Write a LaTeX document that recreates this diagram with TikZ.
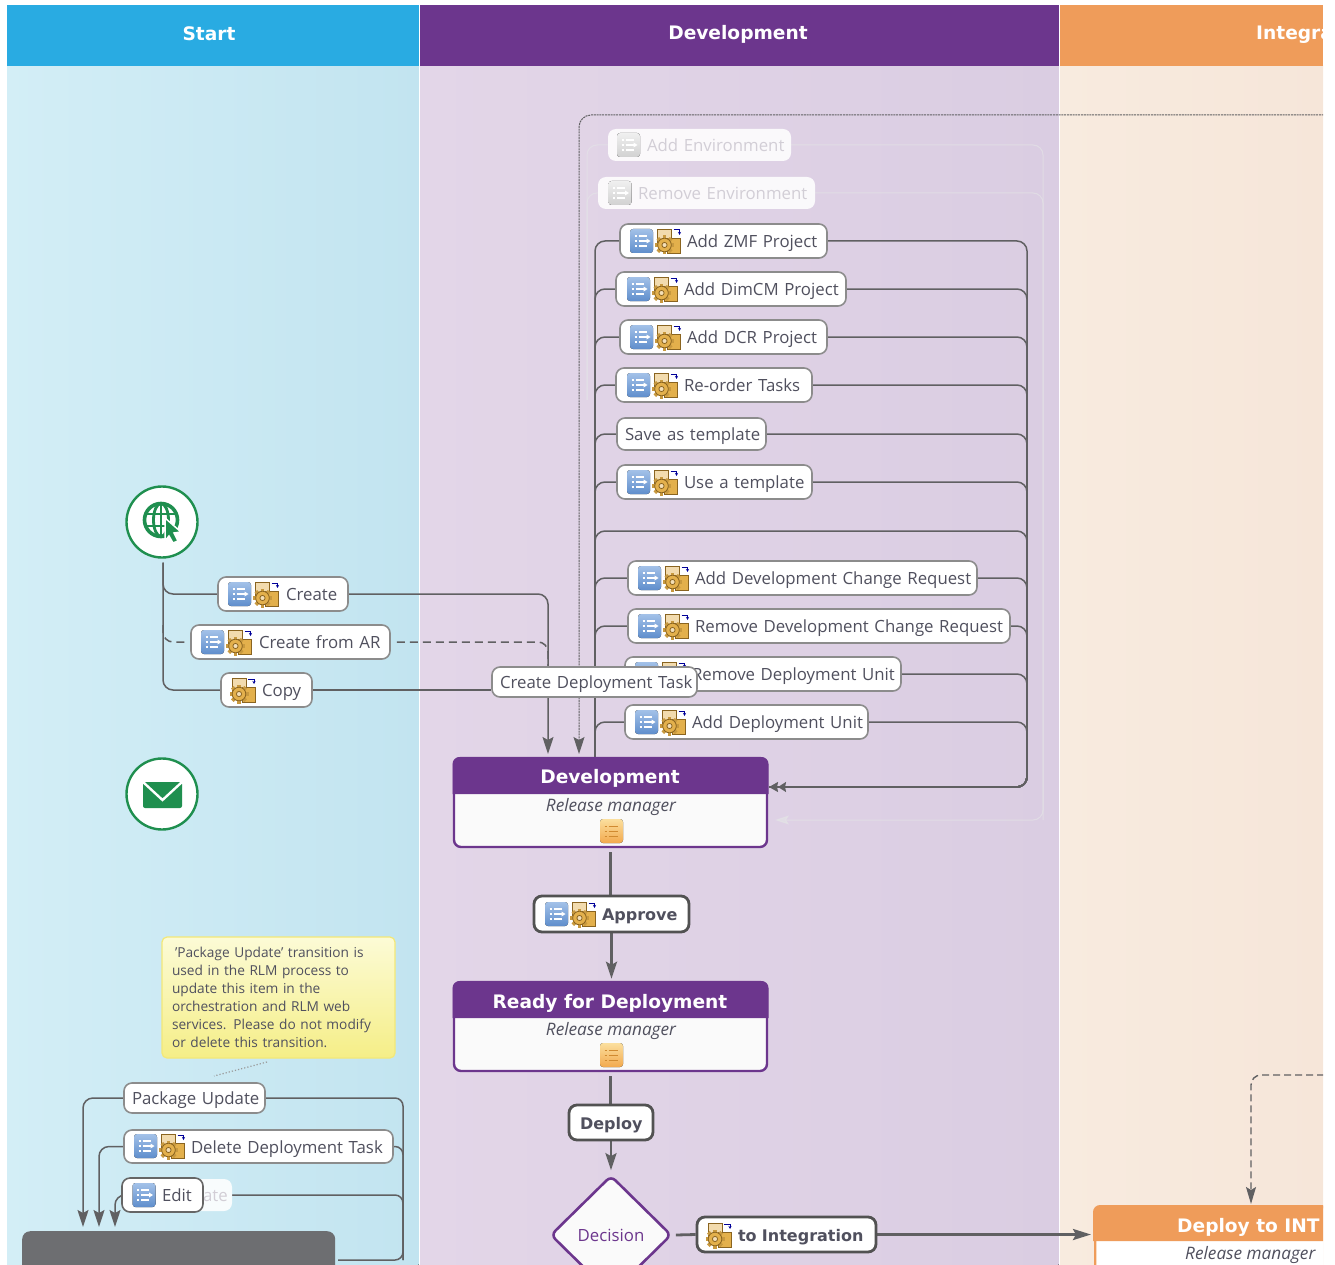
\documentclass[tikz,border=0pt]{standalone}
\usepackage{fontspec}
\setmainfont{Open Sans}
\newfontfamily\boldf{DejaVu Sans}[BoldFont={DejaVu Sans Bold}]
\usetikzlibrary{arrows.meta,shapes.geometric,calc}
\pgfdeclarelayer{lanes}\pgfdeclarelayer{links}\pgfsetlayers{lanes,links,main}
\definecolor{hblue}{HTML}{29ABE2}
\definecolor{hpurple}{HTML}{6C368D}
\definecolor{horange}{HTML}{EF9C5A}
\definecolor{txt}{HTML}{50505E}
\definecolor{conn}{HTML}{606062}
\definecolor{faintl}{HTML}{E4E4E6}
\definecolor{faintt}{HTML}{D2CED6}
\definecolor{grn}{HTML}{1F8F4F}
\definecolor{gold}{HTML}{E3B04C}
\definecolor{brn}{HTML}{8A6420}
\definecolor{icoT}{HTML}{A3C1E8}
\definecolor{icoB}{HTML}{5F8ECC}
\definecolor{orT}{HTML}{FBDF9E}
\definecolor{orB}{HTML}{F2A94E}
\definecolor{orL}{HTML}{D08A30}
\definecolor{stbg}{HTML}{FAFAFA}
\definecolor{gbox}{HTML}{6D6E71}
\definecolor{laneAl}{HTML}{D3EEF6}
\definecolor{laneAm}{HTML}{C7E8F2}
\definecolor{laneAr}{HTML}{C2E4F0}
\definecolor{laneBl}{HTML}{E3D6E8}
\definecolor{laneBr}{HTML}{DACDE2}
\definecolor{laneCl}{HTML}{F8EBDF}
\definecolor{laneCr}{HTML}{F6E6D9}
\newcommand{\sz}[1]{\fontsize{#1}{#1}\selectfont}
\tikzset{
 x=1pt,y=-1pt,
 btnbase/.style={rounded corners=8pt,anchor=center,inner xsep=0pt,inner ysep=0pt,align=left,text height=15pt,text depth=2pt,font=\sz{16.8},text=txt,fill=white},
 btn/.style={btnbase,draw=black!45,line width=1.6pt},
 btnstrong/.style={btnbase,draw=black!68,line width=2.8pt,font=\boldf\bfseries\sz{16},text=txt},
 btnfaint/.style={btnbase,fill=white,fill opacity=.88,text opacity=1,text=faintt},
 cline/.style={draw=conn,line width=1.5pt,rounded corners=10pt},
 cthick/.style={draw=conn,line width=2.8pt},
 cfaint/.style={draw=faintl,line width=1pt,rounded corners=10pt,opacity=.65},
 tip/.style={-{Stealth[length=17pt,width=11pt,inset=3pt]}},
 stitle/.style={font=\boldf\bfseries\sz{18.6},text=white,anchor=center,yshift=-1pt},
 srole/.style={font=\itshape\sz{17.2},text=txt,anchor=center,yshift=-1.5pt},
 stbox/.style={draw=hpurple,fill=stbg,line width=2.4pt,rounded corners=7pt,minimum width=313pt,minimum height=89pt,inner sep=0pt},
 startcirc/.style={circle,draw=grn,fill=white,line width=2.4pt,minimum size=71pt,inner sep=0pt},
 icolines/.pic={
  \foreach \yy in {-5,0,5}{
   \draw[white,line width=1.2pt] (-7,\yy) -- (-5,\yy) (-3,\yy) -- (5,\yy);
  }
  \fill[white] (5,-2.5) -- (9,0) -- (5,2.5) -- cycle;
 },
 blueic/.pic={
  \fill[rounded corners=3pt,top color=icoT,bottom color=icoB] (-11.5,-12) rectangle (11.5,12);
  \pic {icolines};
 },
 grayic/.pic={
  \fill[rounded corners=3pt,top color=black!6,bottom color=black!18] (-11.5,-12) rectangle (11.5,12);
  \pic {icolines};
 },
 orangeic/.pic={
  \fill[rounded corners=3pt,top color=orT,bottom color=orB] (-11.5,-12) rectangle (11.5,12);
  \foreach \yy in {-5,0,5}{\draw[orL,line width=1pt] (-7,\yy) -- (-5,\yy) (-3,\yy) -- (6,\yy);}
 },
 gearic/.pic={
  \filldraw[fill=gold!45!white,draw=brn,line width=.7pt] (-11,-12) rectangle (3,4);
  \filldraw[fill=gold,draw=brn,line width=.7pt] (-1,-3) rectangle (12,12);
  \draw[blue!60!black,line width=1pt,-{Stealth[length=3pt,width=3pt]}] (5,-11) -- (11,-11) -- (11,-6);
  \foreach \a in {0,45,...,315}{
   \fill[gold!70!brn,rotate around={\a:(-4,4)}] (-5.8,-5.5) rectangle (-2.2,-2);
  }
  \fill[gold] (-4,4) circle (6.8);
  \draw[brn,line width=.8pt] (-4,4) circle (6.8);
  \fill[gold!40!white,draw=brn,line width=.8pt] (-4,4) circle (2.6);
 },
}
\newcommand{\btn}[7][btn]{%
 \node[#1,minimum width={(#4-#3)*1pt},minimum height={(#6-#5)*1pt},text width={(#4-#3)*1pt}] (#2) at ({(#3+#4)/2},{(#5+#6)/2}) {#7};}
\newcommand{\ic}[3]{\pic at (#2,#3) {#1};}
\newcommand{\both}[2]{\ic{blueic}{#1}{#2}\ic{gearic}{#1+27}{#2}}
\begin{document}
\begin{tikzpicture}
\useasboundingbox (0,0) rectangle (1335,1265);
\begin{pgfonlayer}{lanes}
\clip (7,5) rectangle (1323,1265);
\fill[left color=laneAl,middle color=laneAm,right color=laneAr] (7,66) rectangle (418.5,1265);
\fill[left color=laneBl,right color=laneBr] (420,66) rectangle (1058.5,1265);
\fill[left color=laneCl,right color=laneCr] (1060,66) rectangle (1323,1265);
\fill[hblue] (7,5) rectangle (418.5,66);
\fill[hpurple] (420,5) rectangle (1058.5,66);
\fill[horange] (1060,5) rectangle (1323,66);
\end{pgfonlayer}

\begin{scope}
\clip (7,5) rectangle (1323,1265);
\node[stitle] (hstart) at (209,33) {Start};
\node[stitle] (hdev) at (738,33) {Development};
\node[stitle,anchor=west,inner sep=0pt] (hint) at (1256,33) {Integration};

\coordinate (busR) at (1027,787);
\coordinate (busL) at (595,757);
\coordinate (fR) at (1043,820);
\coordinate (fL) at (587,400);
\coordinate (devtipA) at (769,787);
\coordinate (devtipF) at (775,820);
\coordinate (far) at (1335,115);
\coordinate (dashfar) at (1335,1075);

\btn[btnfaint]{addenv}{608}{791}{129}{161}{\hspace*{39pt}Add Environment}
\btn[btnfaint]{remenv}{598}{815}{177}{209}{\hspace*{40pt}Remove Environment}
\ic{grayic}{628.5}{145}\ic{grayic}{620}{193}
\btn{zmf}{620}{827}{224}{258}{\hspace*{67pt}Add ZMF Project}\both{641.5}{241}
\btn{dim}{616}{846}{272}{306}{\hspace*{68pt}Add DimCM Project}\both{638.5}{289}
\btn{dcr}{620}{827}{320}{354}{\hspace*{67pt}Add DCR Project}\both{641.5}{337}
\btn{reo}{616}{812}{368}{402}{\hspace*{68pt}Re-order Tasks}\both{638.5}{385}
\btn{sat}{617}{766}{418}{450}{\hspace*{8pt}Save as template}
\btn{uat}{617}{812}{465}{499}{\hspace*{67pt}Use a template}\both{638.5}{482}
\btn{adcr}{628}{977}{561}{595}{\hspace*{67pt}Add Development Change Request}\both{649.5}{578}
\btn{rdcr}{628}{1010}{609}{643}{\hspace*{67pt}Remove Development Change Request}\both{649.5}{626}
\btn{rdu}{625}{901}{657}{691}{\hspace*{67pt}Remove Deployment Unit}\both{646.5}{674}
\btn{adu}{625}{868}{705}{739}{\hspace*{67pt}Add Deployment Unit}\both{646.5}{722}
\btn{create}{218}{348}{577}{611}{\hspace*{68pt}Create}\both{239.5}{594}
\btn{fromar}{191}{390}{625}{659}{\hspace*{68pt}Create from AR}\both{212.5}{642}
\btn{copy}{221}{312}{673}{707}{\hspace*{41pt}Copy}\ic{gearic}{243}{690}
\btn{cdt}{492}{697}{667}{697}{\hspace*{8pt}Create Deployment Task}

\node[startcirc] (startc) at (162,522) {};
\node[startcirc] (mailc) at (162,794) {};
% globe
\draw[grn,line width=3.6pt] (161,520) circle (16.5);
\draw[grn,line width=2.8pt] (161,520) ellipse (7.5 and 16.5);
\draw[grn,line width=2.6pt] (161,504) -- (161,537) (145,514) -- (177,514) (145,526) -- (177,526);
\fill[grn,draw=white,line width=1.5pt] (165,518) -- (181,532) -- (174,533) -- (178,541) -- (173,543) -- (169,536) -- (165,541) -- cycle;
% mail
\fill[grn,rounded corners=2pt] (143,782) rectangle (182,808);
\draw[white,line width=2.4pt] (143,782) -- (162.5,800) -- (182,782);

\node[stbox] (dev) at (610.5,802.5) {};
\fill[hpurple] (452.5,794) [rounded corners=7pt] -- (452.5,757) -- (768.5,757) [sharp corners] -- (768.5,794) -- cycle;
\node[stitle] (devt) at (610,777) {Development};
\node[srole] (devr) at (611,806) {Release manager};
\ic{orangeic}{611.5}{831}
\node[stbox] (rfd) at (610.5,1026.5) {};
\fill[hpurple] (452.5,1018) [rounded corners=7pt] -- (452.5,981) -- (768.5,981) [sharp corners] -- (768.5,1018) -- cycle;
\node[stitle] (rfdt) at (610,1002) {Ready for Deployment};
\node[srole] (rfdr) at (611,1030) {Release manager};
\ic{orangeic}{611.5}{1055}

\btn[btnstrong]{approve}{534}{689}{896}{932}{\hspace*{68pt}Approve}\both{556.5}{914}
\btn[btnstrong]{deploy}{569}{653}{1105}{1140}{\hspace*{11pt}Deploy}
\btn[btnstrong]{toint}{697}{876}{1217}{1252}{\hspace*{41pt}to Integration}\ic{gearic}{719}{1235}
\node[diamond,draw=hpurple,fill=stbg,line width=2.6pt,rounded corners=6pt,minimum width=121pt,minimum height=119pt,inner sep=0pt,text=hpurple,font=\sz{16.8}] (dec) at (611,1235) {Decision};

\node[draw=horange,fill=white,line width=2.4pt,rounded corners=7pt,minimum width=300pt,minimum height=120pt,inner sep=0pt,anchor=north west] (dint) at (1094,1206) {};
\fill[horange] (1093,1241) [rounded corners=7pt] -- (1093,1205) [sharp corners] -- (1340,1205) -- (1340,1241) -- cycle;
\node[stitle,anchor=west,inner sep=0pt] (dintt) at (1177,1226) {Deploy to INT};
\node[srole,anchor=west,inner sep=0pt] (dintr) at (1185,1254) {Release manager};

\node[draw={rgb,255:red,243;green,232;blue,120},line width=1.2pt,top color={rgb,255:red,252;green,251;blue,214},bottom color={rgb,255:red,245;green,238;blue,135},rounded corners=5pt,minimum width=233pt,minimum height=121pt,text width=213pt,inner sep=0pt,align=left,text=txt,font=\fontsize{13.7}{18}\selectfont] (note) at (278.5,997.5) {\hspace*{3pt}'Package Update' transition is\\used in the RLM process to\\update this item in the\\orchestration and RLM web\\services. Please do not modify\\or delete this transition.};

\btn[btnfaint]{upd}{150}{232}{1179}{1211}{\hspace*{53pt}ate}
\btn{pkg}{124}{265}{1083}{1113}{\hspace*{8pt}Package Update}
\btn{ddt}{124}{393}{1130}{1163}{\hspace*{67pt}Delete Deployment Task}\both{145.5}{1146}
\btn[btn,draw=black!60]{edit}{122}{203}{1178}{1212}{\hspace*{40pt}Edit}\ic{blueic}{144}{1195}

\node[fill=gbox,rounded corners=8pt,minimum width=313pt,minimum height=80pt,inner sep=0pt,anchor=north west] (gb) at (22,1231) {};
\end{scope}

\begin{pgfonlayer}{links}
\clip (7,5) rectangle (1323,1265);
\draw[cfaint,-{Stealth[length=14pt,width=9pt,inset=3pt]}] (addenv.east) -| (fR) -- (devtipF);
\draw[cfaint] (remenv.east) -| (fR);
\draw[cfaint] (addenv.west) -| (fL);
\draw[cfaint] (remenv.west) -| (fL);
\foreach \n in {zmf,dim,dcr,reo,sat,uat,adcr,rdcr,adu}{
 \draw[cline] (busL) |- (\n.west);
}
\foreach \n in {zmf,dim,dcr,reo,sat,uat,adcr,rdcr,rdu,adu}{
 \draw[cline] (\n.east) -| (busR) -- (devtipA);
}
\draw[cline] (595,575) -- (595,531) -- (1027,531) -- (1027,575);
\draw[cline,{Stealth[length=8pt,width=10pt,inset=1pt]}-] ([xshift=9pt]devtipA) -- ([xshift=30pt]devtipA);
\draw[cline,{Stealth[length=9pt,width=10pt,inset=1pt]}-] (devtipA) -- ([xshift=12pt]devtipA);
\draw[draw=conn,line width=1pt,dash pattern=on 2pt off .8pt,rounded corners=12pt,tip] (far) -| (579,754);
\draw[cline,tip] (create.east) -| (548,754);
\draw[cline,dash pattern=on 8pt off 5pt,shorten <=6pt] (fromar.east) -| (548,667);
\draw[cline] (copy.east) -- (copy.east -| cdt.west);
\draw[cline] ([shift={(1,4)}]startc.south) |- (create.west);
\draw[cline] ([shift={(1,4)}]startc.south) |- (copy.west);
\draw[cline,dash pattern=on 8pt off 5pt,shorten >=4pt] (163,625) |- (fromar.west);
\draw[cthick] ([yshift=-4pt]dev.south) -- (dev.south |- approve.north);
\draw[cthick,tip] (approve.south) -- ([yshift=2pt]rfd.north -| approve.south);
\draw[cthick] ([yshift=-4pt]rfd.south) -- (rfd.south |- deploy.north);
\draw[cthick,tip] (deploy.south) -- ([yshift=4pt]dec.north);
\draw[cthick] ([xshift=3pt]dec.east) -- (toint.west);
\draw[cthick,-{Stealth[length=18pt,width=11pt,inset=3pt]}] (toint.east) -- ([xshift=-3pt]dint.west |- toint.east);
\draw[draw=conn,line width=1.4pt,dash pattern=on 7pt off 4pt,rounded corners=10pt,-{Stealth[length=17pt,width=10pt,inset=3pt]}] (dashfar) -| (1251,1204);
\draw[cline,tip] (pkg.west) -| (83,1227);
\draw[cline,tip] (ddt.west) -| (99,1227);
\draw[cline,tip] (edit.west) -| (115,1227);
\coordinate (gR) at (403,1260);
\draw[cline,rounded corners=8pt] (pkg.east) -| (gR) -- (338,1260);
\draw[cline,rounded corners=8pt] (ddt.east) -| (gR);
\draw[cline,rounded corners=8pt] (upd.east) -| (gR);
\draw[black!40,line width=1.2pt,dotted] (267,1062) -- (214,1076);
\end{pgfonlayer}
\end{tikzpicture}
\end{document}
